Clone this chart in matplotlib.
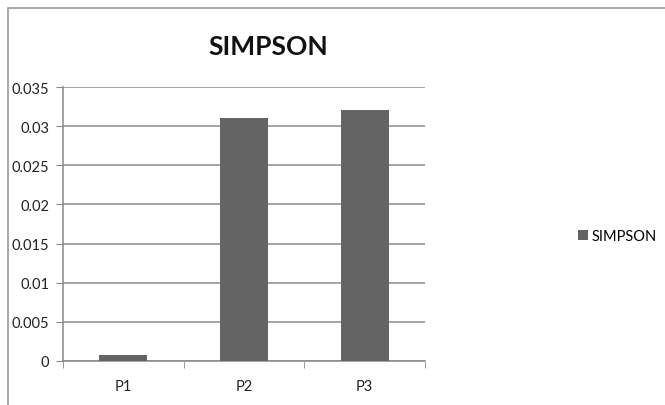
import numpy as np
import matplotlib.pyplot as plt
from matplotlib.patches import Rectangle

# Datos
categorias = ['P1', 'P2', 'P3']
valores = [0.0008, 0.031, 0.032]
ticks_y = [0, 0.005, 0.01, 0.015, 0.02, 0.025, 0.03, 0.035]
etiquetas_y = ['0', '0.005', '0.01', '0.015', '0.02', '0.025', '0.03', '0.035']

plt.rcParams['font.family'] = ['Lato', 'DejaVu Sans']

W, H = 665, 406
fig = plt.figure(figsize=(W / 100, H / 100), dpi=100)

# Marco exterior del gráfico (cortado a la derecha y abajo)
fig.patches.append(Rectangle((8 / W, -0.1), 1.2, 1 - 9 / H + 0.1,
                             transform=fig.transFigure, fill=False,
                             edgecolor='#9a9a9a', linewidth=1.2))

ax = fig.add_axes([63 / W, 1 - 362 / H, (425 - 63) / W, (362 - 88) / H])
x = np.arange(len(categorias))
ax.bar(x, valores, width=0.4, color='#646464', zorder=3)

ax.set_xlim(-0.5, len(categorias) - 0.5)
ax.set_ylim(0, 0.035)
ax.set_yticks(ticks_y)
ax.set_yticklabels(etiquetas_y)
ax.set_xticks(x)
ax.set_xticklabels(categorias)
ax.tick_params(axis='x', length=0, pad=13, labelsize=10.5, colors='#222222')
ax.tick_params(axis='y', length=5, direction='out', color='#888888',
               pad=5, labelsize=10.5, colors='#222222')
ax.set_xticks(np.arange(len(categorias) + 1) - 0.5, minor=True)
ax.tick_params(axis='x', which='minor', length=5, direction='out', color='#888888')
ax.yaxis.grid(True, color='#8c8c8c', linewidth=1.1, zorder=0)
for s in ['top', 'right']:
    ax.spines[s].set_visible(False)
for s in ['left', 'bottom']:
    ax.spines[s].set_color('#888888')
    ax.spines[s].set_linewidth(1.1)

fig.text(268 / W, 1 - 47 / H, 'SIMPSON', ha='center', va='center',
         fontsize=19, fontweight='bold', color='#111111')

ax.legend(['SIMPSON'], loc='center left', bbox_to_anchor=(565 / W, 1 - 237 / H),
          bbox_transform=fig.transFigure, frameon=False, fontsize=10.5,
          handlelength=0.65, handleheight=0.65, handletextpad=0.3)

fig.savefig('out.png', dpi=100)
